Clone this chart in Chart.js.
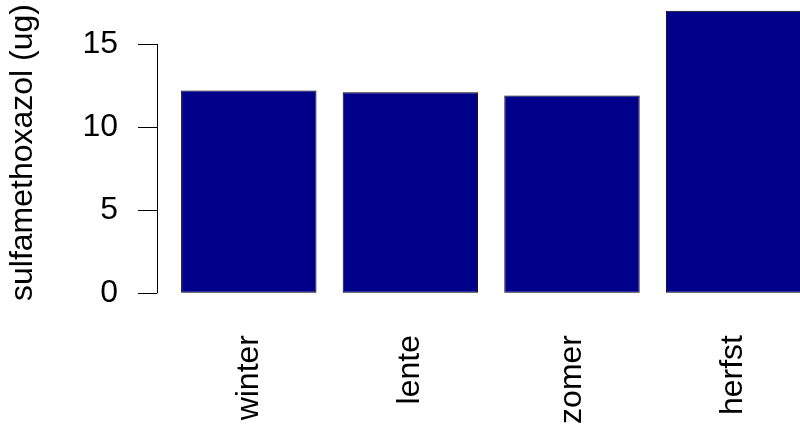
<!DOCTYPE html>
<html>
<head>
<meta charset="utf-8">
<script src="https://cdn.jsdelivr.net/npm/chart.js@4/dist/chart.umd.min.js"></script>
<style>
html,body{margin:0;padding:0;background:#fff;}
#wrap{width:800px;height:426px;position:relative;}
</style>
</head>
<body>
<div id="wrap"><canvas id="c" width="800" height="426"></canvas></div>
<script>
const categories = ["winter", "lente", "zomer", "herfst"];
const values = [12.2, 12.1, 11.9, 17.0];
const yTicks = [0, 5, 10, 15];
const yTitle = "sulfamethoxazol (ug)";

const FONT = "'Liberation Sans', Arial, sans-serif";

const axisLinePlugin = {
  id: 'axisLine',
  afterDraw(chart) {
    const y = chart.scales.y;
    const ctx = chart.ctx;
    const x = Math.round(chart.chartArea.left) + 0.5;
    ctx.save();
    ctx.strokeStyle = '#000';
    ctx.lineWidth = 1;
    ctx.beginPath();
    ctx.moveTo(x, y.getPixelForValue(yTicks[0]));
    ctx.lineTo(x, y.getPixelForValue(yTicks[yTicks.length - 1]));
    ctx.stroke();
    ctx.restore();
  }
};

new Chart(document.getElementById('c'), {
  type: 'bar',
  data: {
    datasets: [{
      data: categories.map((c, i) => ({ x: i + 1, y: values[i] })),
      backgroundColor: '#00008B',
      borderColor: '#000000',
      borderWidth: 1,
      borderSkipped: false,
      categoryPercentage: 1,
      barPercentage: 0.838
    }]
  },
  options: {
    responsive: false,
    animation: false,
    devicePixelRatio: 1,
    layout: { padding: { left: 0, right: 0, top: 0, bottom: 0 } },
    plugins: { legend: { display: false }, tooltip: { enabled: false } },
    scales: {
      x: {
        type: 'linear',
        offset: false,
        min: 0.432,
        max: 4.411,
        grid: { display: false, drawTicks: false },
        border: { display: false },
        afterBuildTicks(scale) {
          scale.ticks = categories.map((c, i) => ({ value: i + 1 }));
        },
        afterFit(scale) {
          scale.height = 121;
          scale.paddingLeft = 0; scale.paddingRight = 0;
          scale.paddingTop = 0; scale.paddingBottom = 0;
        },
        ticks: {
          autoSkip: false,
          minRotation: 90,
          maxRotation: 90,
          padding: 30,
          color: '#000',
          font: { family: FONT, size: 32 },
          callback: (v) => categories[Math.round(v) - 1]
        }
      },
      y: {
        min: -0.704,
        max: 17.648,
        grid: { display: true, drawOnChartArea: false, drawTicks: true, tickLength: 19, color: '#000', lineWidth: 1 },
        border: { display: false },
        afterBuildTicks(scale) {
          scale.ticks = yTicks.map(v => ({ value: v }));
        },
        afterFit(scale) {
          scale.width = 157;
          scale.paddingLeft = 0; scale.paddingRight = 0;
          scale.paddingTop = 0; scale.paddingBottom = 0;
        },
        ticks: {
          padding: 20,
          color: '#000',
          font: { family: FONT, size: 32 }
        },
        title: {
          display: true,
          text: yTitle,
          color: '#000',
          font: { family: FONT, size: 32 },
          padding: { top: 4, bottom: 4 }
        }
      }
    }
  },
  plugins: [axisLinePlugin]
});
</script>
</body>
</html>
